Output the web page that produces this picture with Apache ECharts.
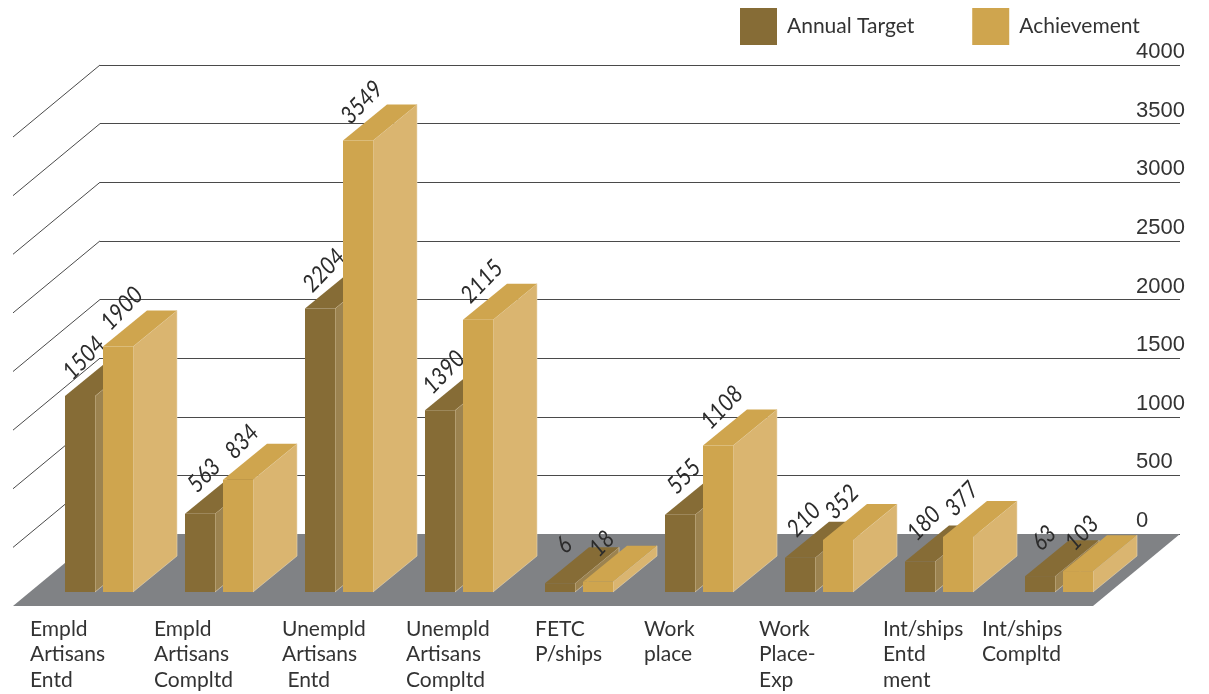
<!DOCTYPE html>
<html>
<head>
<meta charset="utf-8">
<title>Annual Target vs Achievement</title>
<style>
html,body{margin:0;padding:0;background:#fff;}
#main{width:1209px;height:694px;}
</style>
<script src="https://cdn.jsdelivr.net/npm/echarts@6/dist/echarts.min.js"></script>
</head>
<body>
<div id="main"></div>
<script>
var categories = ['Empld\nArtisans\nEntd','Empld\nArtisans\nCompltd','Unempld\nArtisans\n Entd','Unempld\nArtisans\nCompltd','FETC\nP/ships','Work\nplace','Work\nPlace-\nExp','Int/ships\nEntd\nment','Int/ships\nCompltd'];
var annualTarget = [1504,563,2204,1390,6,555,210,180,63];
var achievement = [1900,834,3549,2115,18,1108,352,377,103];
var valueTicks = [500,1000,1500,2000,2500,3000,3500,4000];

var myChart = echarts.init(document.getElementById('main'));

var depthX = 44, depthY = 36;     // bar depth
var floorX = 87, floorY = 72;     // floor / side wall depth
var barBase = -64;                // the bars stand on a small plinth below 0
var labelDx = [-68,-64,-56,-52,-43,-54,-59,-55,-76];

function barRender(front, side, top, offset){
	return function(params, api){
		var i = api.value(0);
		var v = api.value(1);
		var c = api.coord([i, v]);
		var b = api.coord([i, barBase]);
		var x0 = c[0] + offset, x1 = x0 + 30, y0 = c[1], y1 = b[1];
		return {
			type: 'group',
			children: [
				{type:'polygon', shape:{points:[[x1,y0],[x1+depthX,y0-depthY],[x1+depthX,y1-depthY],[x1,y1]]}, style:{fill:side, stroke:'#e9d9b8', lineWidth:0.6}},
				{type:'polygon', shape:{points:[[x0,y0],[x0+depthX,y0-depthY],[x1+depthX,y0-depthY],[x1,y0]]}, style:{fill:top}},
				{type:'rect', shape:{x:x0, y:y0, width:30, height:y1-y0}, style:{fill:front}},
				{type:'text', x:x0+19, y:y0-38, rotation:46*Math.PI/180, scaleX:0.88, z2:20,
					style:{text:String(v), align:'center', verticalAlign:'middle', fill:'#2b2b2b',
						font:'italic 24px Lato'}}
			]
		};
	};
}

var option = {
	animation: false,
	backgroundColor: '#fff',
	legend: {
		left: 740,
		top: 8,
		padding: 0,
		itemWidth: 37,
		itemHeight: 37,
		itemGap: 58,
		icon: 'rect',
		data: ['Annual Target','Achievement'],
		textStyle: {fontFamily:'Lato', fontSize:21, color:'#333', padding:[0,0,0,5]}
	},
	grid: [
		{left:100, top:65, width:1080, height:469},
		{left:38, top:84, width:1080, height:508}
	],
	xAxis: [
		{type:'category', gridIndex:0, data:categories, show:false},
		{type:'category', gridIndex:1, data:categories, show:false}
	],
	yAxis: [
		{
			type: 'value', gridIndex:0, min:0, max:4000, interval:500, position:'right',
			axisLine: {show:false},
			axisTick: {show:false},
			splitLine: {lineStyle:{color:'#4a4a4a', width:1}},
			axisLabel: {
				margin: -44,
				align: 'left',
				verticalAlign: 'bottom',
				padding: [0,0,2,0],
				fontFamily: 'Liberation Sans',
				fontSize: 22,
				color: '#333',
				formatter: function(v){ return String(v); }
			}
		},
		{type:'value', gridIndex:1, min:barBase, max:4000, show:false, splitLine:{show:false}}
	],
	series: [
		{
			type: 'custom', name: 'floor', xAxisIndex:0, yAxisIndex:0, z:1, silent:true,
			data: [[0,0]],
			renderItem: function(params, api){
				var g = params.coordSys;
				var y = api.coord([0,0])[1];
				return {type:'polygon', shape:{points:[
					[g.x,y],[g.x+g.width,y],[g.x+g.width-floorX,y+floorY],[g.x-floorX,y+floorY]
				]}, style:{fill:'#808285'}};
			}
		},
		{
			type: 'custom', name: 'wall', xAxisIndex:0, yAxisIndex:0, z:1, silent:true,
			data: valueTicks.map(function(v){ return [0,v]; }),
			renderItem: function(params, api){
				var g = params.coordSys;
				var y = api.coord([0,api.value(1)])[1];
				return {type:'line', shape:{x1:g.x, y1:y, x2:g.x-floorX, y2:y+floorY}, style:{stroke:'#4a4a4a', lineWidth:1}};
			}
		},
		{
			type: 'custom', name: 'Annual Target', xAxisIndex:1, yAxisIndex:1, z:3,
			itemStyle: {color:'#866c36'},
			data: annualTarget.map(function(v,i){ return [i,v]; }),
			renderItem: barRender('#866c36','#9c8350','#866c36',-33)
		},
		{
			type: 'custom', name: 'Achievement', xAxisIndex:1, yAxisIndex:1, z:4,
			itemStyle: {color:'#cfa54e'},
			data: achievement.map(function(v,i){ return [i,v]; }),
			renderItem: barRender('#cfa54e','#dab570','#cfa54e',5)
		},
		{
			type: 'custom', name: 'names', xAxisIndex:1, yAxisIndex:1, z:5, silent:true,
			data: categories.map(function(c,i){ return [i,barBase]; }),
			renderItem: function(params, api){
				var i = api.value(0);
				var c = api.coord([i,barBase]);
				return {type:'text', x:c[0]+labelDx[i], y:c[1]+24, style:{
					text:categories[i], align:'left', verticalAlign:'top',
					font:'21px Lato', lineHeight:25.5, fill:'#333'
				}};
			}
		}
	]
};
myChart.setOption(option);
</script>
</body>
</html>
